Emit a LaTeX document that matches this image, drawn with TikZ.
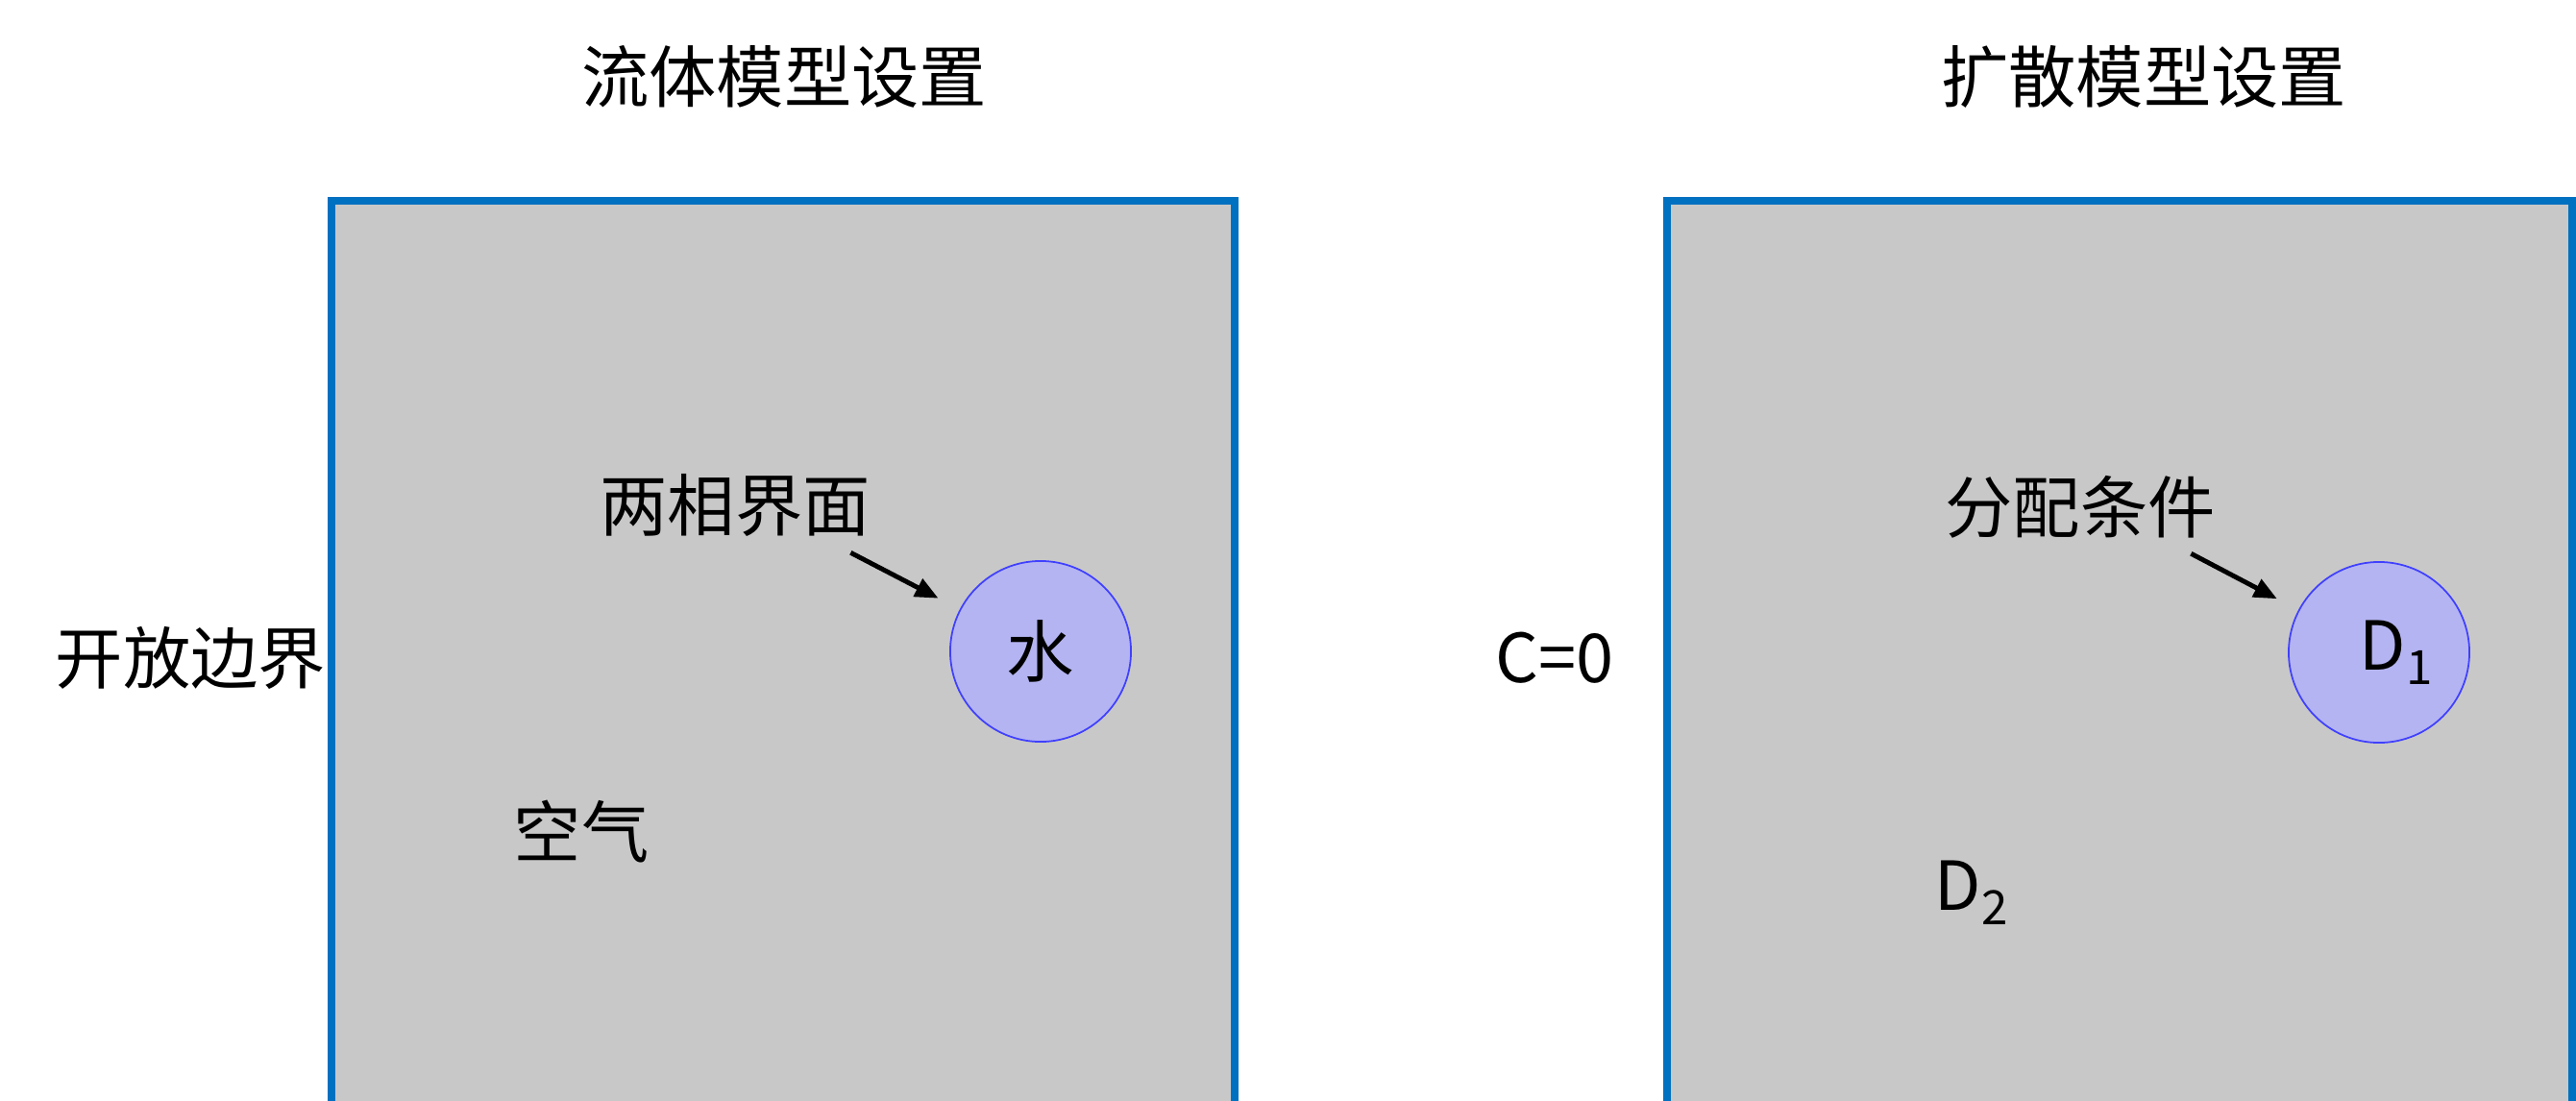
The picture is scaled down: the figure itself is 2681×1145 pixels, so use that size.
\documentclass[tikz,border=0pt]{standalone}
\usepackage{fontspec}
\setmainfont{Noto Sans CJK SC}
\usetikzlibrary{arrows.meta}
\definecolor{edgeblue}{HTML}{0070C0}
\definecolor{domgray}{HTML}{C8C8C8}
\definecolor{dropfill}{HTML}{B4B4F2}
\definecolor{dropline}{HTML}{4040FF}
\newcommand{\lowidx}[1]{\raisebox{-0.22em}{\fontsize{14}{14}\selectfont #1}}

\begin{document}
\begin{tikzpicture}[x=0.01cm, y=-0.01cm, font=\fontsize{20}{24}\selectfont,
    frame/.style={draw=edgeblue, fill=domgray, line width=2.3pt},
    drop/.style={circle, draw=dropline, fill=dropfill, line width=0.5pt, minimum size=1.88cm, inner sep=0pt},
    lbl/.style={inner sep=0pt},
    arr/.style={-{Triangle[length=0.24cm,width=0.2cm]}, line width=1.4pt, shorten >=0.25cm}]
    \useasboundingbox (0,0) rectangle (2681,1145);
    \clip (0,0) rectangle (2681,1145);

    % fluid model
    \node[lbl] (fluidtitle) at (816,80) {流体模型设置};
    \draw[frame] (345,209) rectangle (1285,1200);
    \node[lbl, anchor=east] (openbc) at (340,685) {开放边界};
    \node[lbl] (iface) at (765,526) {两相界面};
    \node[drop] (water) at (1083,678) {水};
    \node[lbl] (air) at (605,866) {空气};
    \draw[arr] ([shift={(-21,16)}]iface.south east) -- (water);

    % diffusion model
    \node[lbl] (difftitle) at (2231,80) {扩散模型设置};
    \draw[frame] (1735,209) rectangle (2677,1200);
    \node[lbl] (czero) at (1618,685) {C=0};
    \node[lbl] (partition) at (2165,528) {分配条件};
    \node[drop] (done) at (2476,679) {\hspace{0.35cm}D\lowidx{1}};
    \node[lbl, anchor=base west] (dtwo) at (2013,947) {D\lowidx{2}};
    \draw[arr] ([shift={(-26,15)}]partition.south east) -- (done);
\end{tikzpicture}
\end{document}
